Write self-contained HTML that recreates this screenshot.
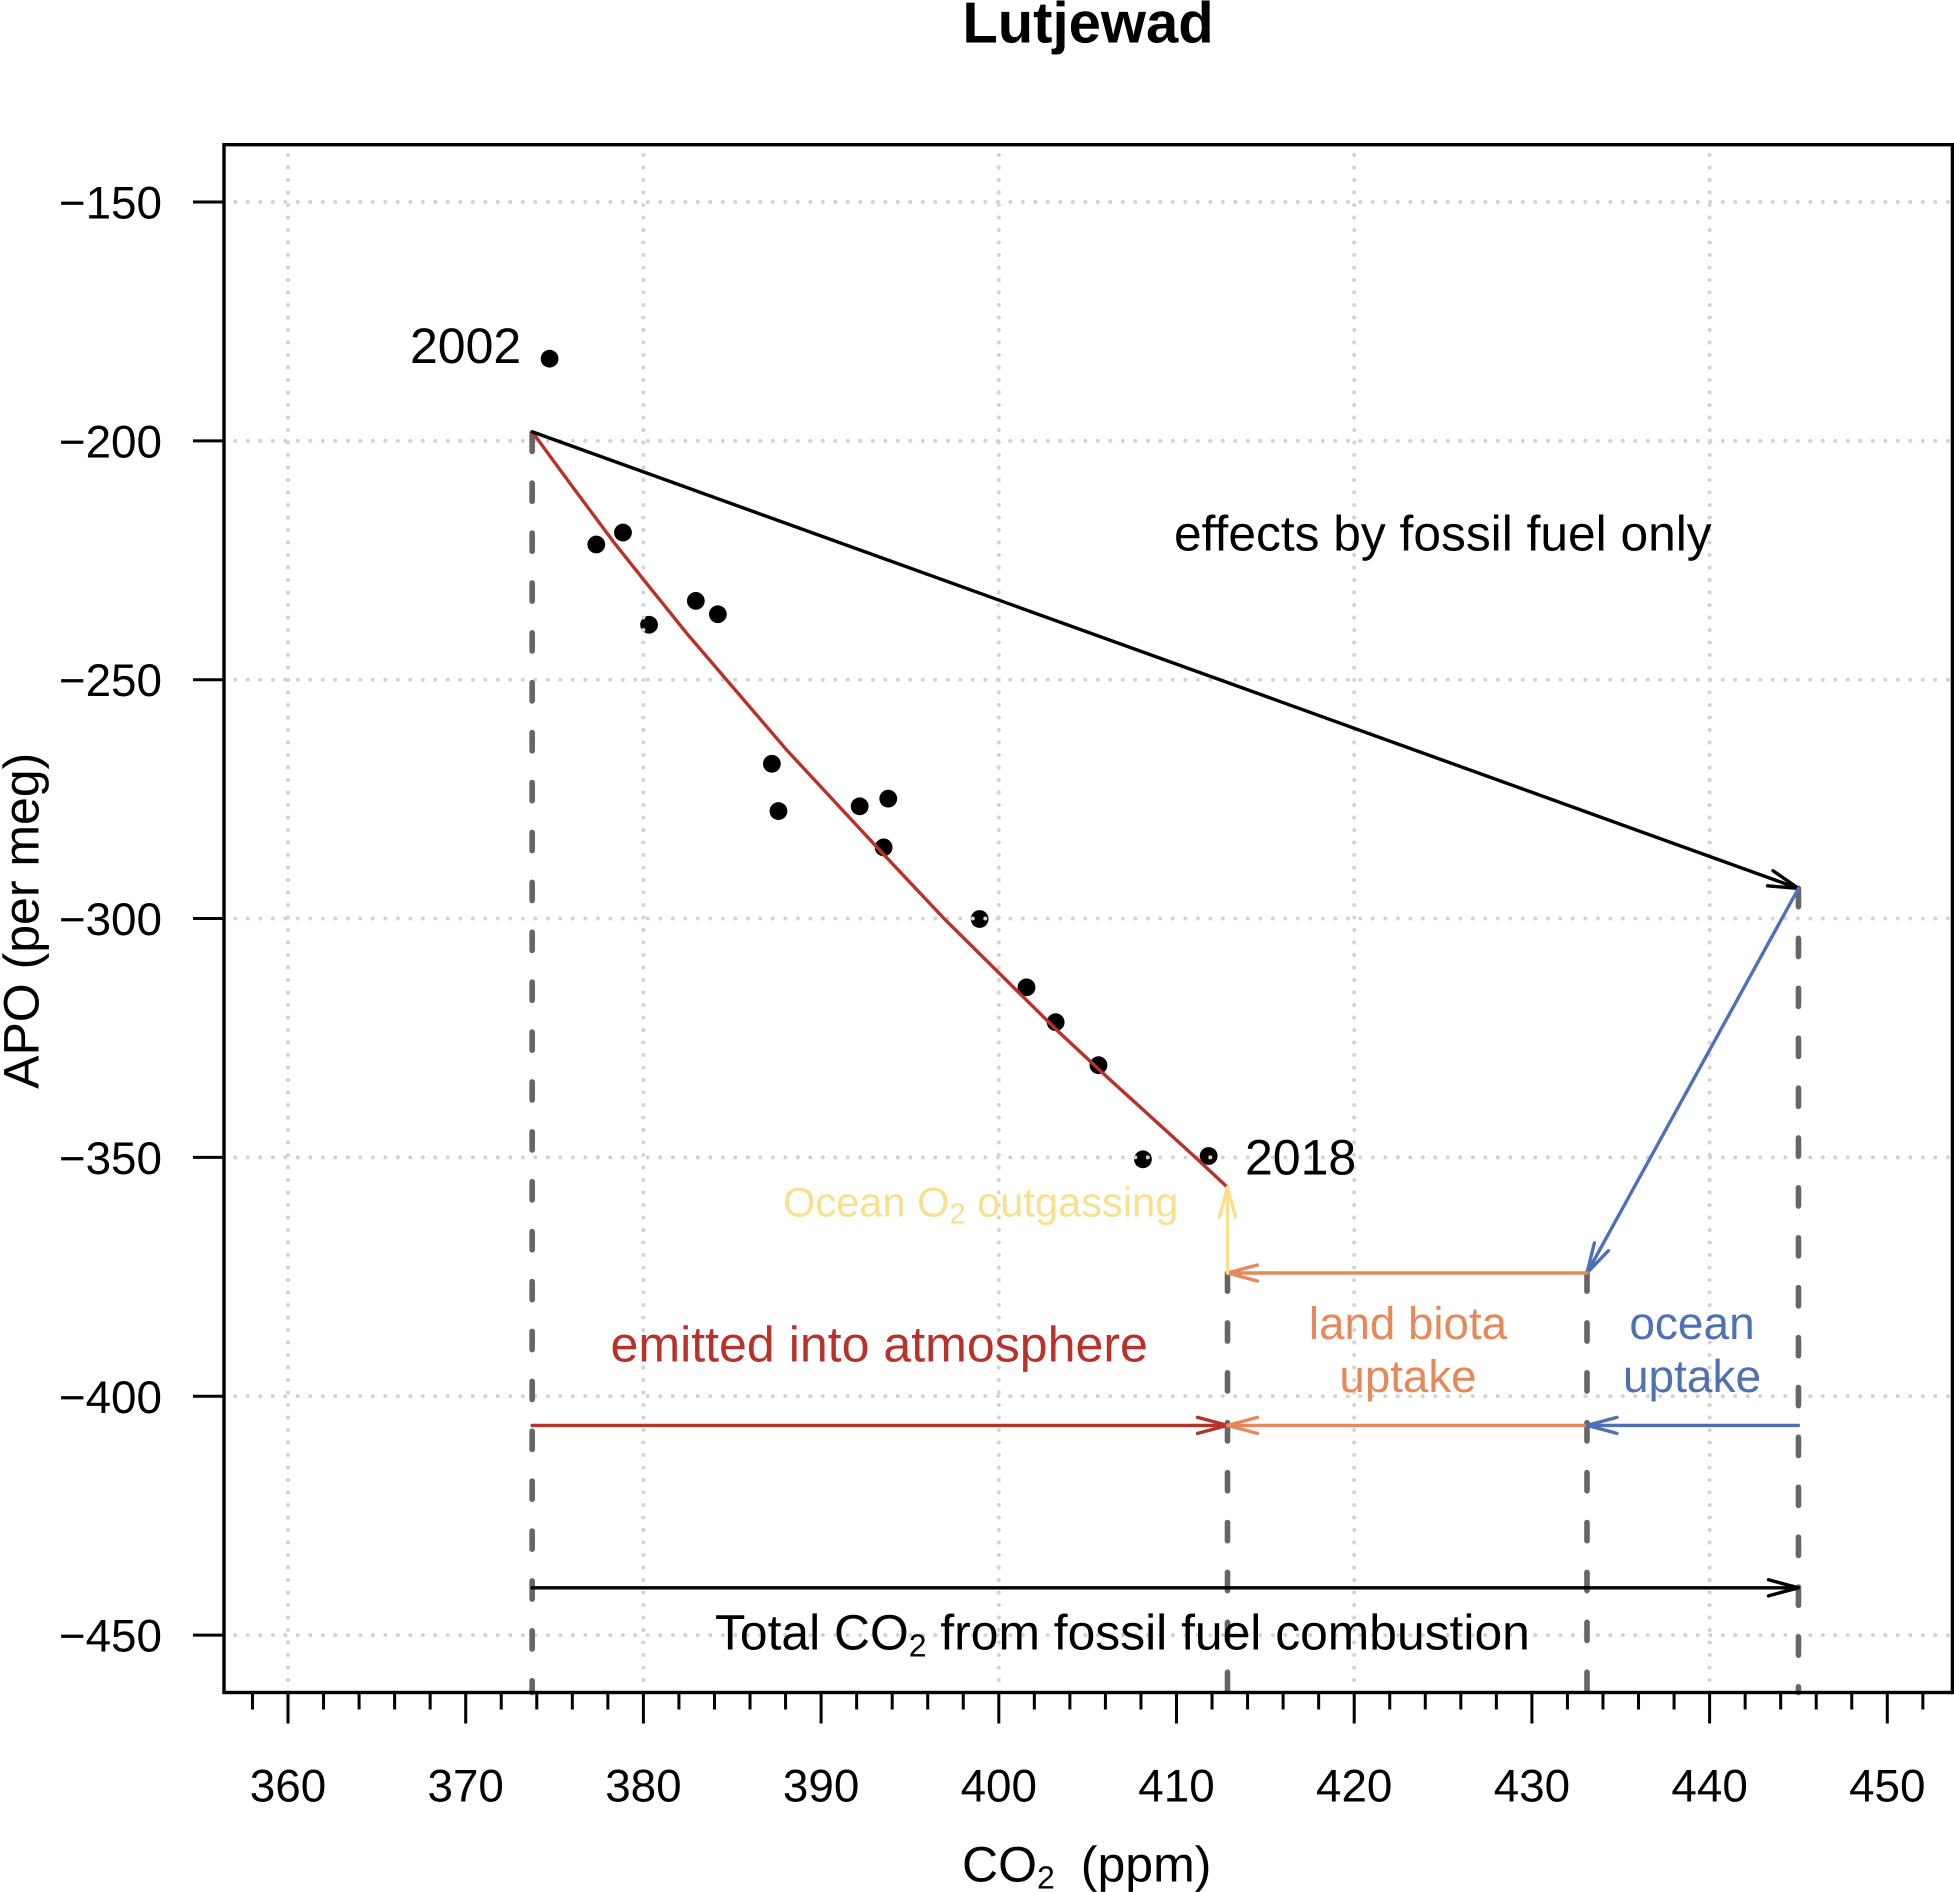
<!DOCTYPE html>
<html lang="en">
<head>
<meta charset="utf-8">
<title>Lutjewad APO vs CO2</title>
<style>
  html, body { margin: 0; padding: 0; background: #ffffff; }
  svg { display: block; }
  text { font-family: "Liberation Sans", Arial, sans-serif; text-rendering: geometricPrecision; fill: #000; }
</style>
</head>
<body>
<svg id="chart" xmlns="http://www.w3.org/2000/svg" width="1954" height="1892" viewBox="0 0 1954 1892">
  <rect x="0" y="0" width="1954" height="1892" fill="#ffffff"/>
  <g id="points"></g>
  <g id="grid"></g>
  <g id="dashes"></g>
  <g id="fit"></g>
  <g id="axes"></g>

  <text x="1088" y="42.7" font-size="58" font-weight="bold" text-anchor="middle">Lutjewad</text>
  <text x="962" y="1881.7" font-size="50">CO<tspan font-size="32" dy="7">2</tspan><tspan dy="-7" dx="26">(ppm)</tspan></text>
  <text transform="translate(38.3 920.8) rotate(-90)" font-size="50" text-anchor="middle">APO (per meg)</text>

  <text x="410" y="363" font-size="50">2002</text>
  <text x="1245" y="1174.7" font-size="50">2018</text>
  <text x="1174" y="550.5" font-size="49.7">effects by fossil fuel only</text>
  <text x="783" y="1216.7" font-size="41.6" style="fill:#f8e08e">Ocean O<tspan font-size="29" dy="7">2</tspan><tspan dy="-7"> outgassing</tspan></text>
  <text x="610.5" y="1361.7" font-size="50.1" style="fill:#b8322a">emitted into atmosphere</text>
  <text x="1408" y="1339" font-size="45.7" text-anchor="middle" style="fill:#e6895a">land biota</text>
  <text x="1408" y="1392" font-size="45.7" text-anchor="middle" style="fill:#e6895a">uptake</text>
  <text x="1692" y="1339" font-size="46" text-anchor="middle" style="fill:#4e71b5">ocean</text>
  <text x="1692" y="1392" font-size="46" text-anchor="middle" style="fill:#4e71b5">uptake</text>
  <text x="715" y="1649.5" font-size="49.8">Total CO<tspan font-size="32" dy="7">2</tspan><tspan dy="-7"> from fossil fuel combustion</tspan></text>
</svg>

<script>
const xTickValues = [360, 370, 380, 390, 400, 410, 420, 430, 440, 450];
const xMinorValues = [358, 362, 364, 366, 368, 372, 374, 376, 378, 382, 384, 386, 388, 392, 394, 396, 398, 402, 404, 406, 408, 412, 414, 416, 418, 422, 424, 426, 428, 432, 434, 436, 438, 442, 444, 446, 448, 452];
const yTickValues = [-150, -200, -250, -300, -350, -400, -450];
const gridXValues = [360, 380, 400, 420, 440];

const obsCo2 = [374.72, 377.35, 378.85, 380.32, 382.95, 384.19, 387.23, 387.6, 392.17, 393.78, 393.52, 398.92, 401.56, 403.2, 405.61, 408.11, 411.81];
const obsApo = [-182.8, -221.7, -219.2, -238.5, -233.5, -236.3, -267.6, -277.5, -276.5, -274.9, -285.1, -300.1, -314.4, -321.7, -330.7, -350.4, -349.7];

const fitCo2 = [373.74, 375.87, 378.31, 380.0, 382.44, 388.06, 391.63, 393.5, 396.97, 403.25, 406.07, 410.95, 412.85];
const fitApo = [-198.1, -208.9, -221.1, -229.0, -240.3, -264.7, -279.0, -286.5, -300.2, -323.3, -333.1, -349.6, -356.2];

const dashCo2 = [373.74, 412.87, 433.1, 445];
const dashTopApo = [-198.4, -374.2, -374.2, -293.7];

const arrowNames = ['fossil-fuel-arrow', 'ocean-uptake-arrow', 'land-uptake-arrow', 'ocean-outgassing-arrow', 'emitted-arrow', 'land-budget-arrow', 'ocean-budget-arrow', 'total-co2-arrow'];
const arrowCo2From = [373.74, 445, 433.1, 412.87, 373.74, 433.1, 445, 373.74];
const arrowApoFrom = [-198.1, -293.7, -374.2, -374.2, -406.1, -406.1, -406.1, -440.1];
const arrowCo2To = [445, 433.1, 412.87, 412.87, 412.87, 412.87, 433.1, 445];
const arrowApoTo = [-293.7, -374.2, -374.2, -356.2, -406.1, -406.1, -406.1, -440.1];
const arrowColors = ['#000000', '#4e71b5', '#e6895a', '#f8e08e', '#b8322a', '#e6895a', '#4e71b5', '#000000'];

const NS = 'http://www.w3.org/2000/svg';
const box = { left: 224, right: 1952.4, top: 144.7, bottom: 1692.5 };
function px(v) { return 288 + (v - 360) * 17.77; }
function py(v) { return 202 + (-150 - v) * 4.777; }
function make(tag, parent, attrs) {
  const el = document.createElementNS(NS, tag);
  for (const k in attrs) el.setAttribute(k, attrs[k]);
  parent.appendChild(el);
  return el;
}
const pointsG = document.getElementById('points');
const gridG = document.getElementById('grid');
const dashG = document.getElementById('dashes');
const fitG = document.getElementById('fit');
const axesG = document.getElementById('axes');

obsCo2.forEach(function (c, i) {
  const dot = make('circle', pointsG, { cx: px(c), cy: py(obsApo[i]), r: 8.9, fill: '#000' });
  
  
});

gridXValues.forEach(function (v) {
  const g = make('line', gridG, { x1: px(v), x2: px(v), y1: 155, y2: box.bottom - 4, stroke: '#d3d3d3', 'stroke-width': 4, 'stroke-linecap': 'round', 'stroke-dasharray': '0 12.5' });
  
  
});
yTickValues.forEach(function (v) {
  const g = make('line', gridG, { x1: 235.3, x2: box.right - 3, y1: py(v), y2: py(v), stroke: '#d3d3d3', 'stroke-width': 4, 'stroke-linecap': 'round', 'stroke-dasharray': '0 12.5' });
  
  
});

dashCo2.forEach(function (c, i) {
  const d = make('line', dashG, { x1: px(c), x2: px(c), y1: py(dashTopApo[i]), y2: box.bottom, stroke: '#666666', 'stroke-width': 5.6, 'stroke-linecap': 'round', 'stroke-dasharray': '18.2 31.7' });
  
  
});

const fitLine = make('polyline', fitG, {
  points: fitCo2.map(function (c, i) { return px(c) + ',' + py(fitApo[i]); }).join(' '),
  fill: 'none', stroke: '#b8322a', 'stroke-width': 3.4, 'stroke-linejoin': 'round'
});



arrowNames.forEach(function (name, i) {
  const x1 = px(arrowCo2From[i]), y1 = py(arrowApoFrom[i]);
  const x2 = px(arrowCo2To[i]), y2 = py(arrowApoTo[i]);
  const a = Math.atan2(y2 - y1, x2 - x1);
  const len = 31, spread = 15 * Math.PI / 180;
  const hx1 = x2 - len * Math.cos(a - spread), hy1 = y2 - len * Math.sin(a - spread);
  const hx2 = x2 - len * Math.cos(a + spread), hy2 = y2 - len * Math.sin(a + spread);
  const p = make('path', fitG, {
    d: 'M' + x1 + ' ' + y1 + 'L' + x2 + ' ' + y2 + 'M' + hx1 + ' ' + hy1 + 'L' + x2 + ' ' + y2 + 'L' + hx2 + ' ' + hy2,
    fill: 'none', stroke: arrowColors[i], 'stroke-width': 3.4, 'stroke-linejoin': 'round', 'stroke-linecap': 'round'
  });
  
  
});

const frame = make('rect', axesG, { x: box.left, y: box.top, width: box.right - box.left, height: box.bottom - box.top, fill: 'none', stroke: '#000', 'stroke-width': 3.4 });



xMinorValues.forEach(function (v) {
  const t = make('line', axesG, { x1: px(v), x2: px(v), y1: box.bottom, y2: box.bottom + 17, stroke: '#000', 'stroke-width': 3 });
  
  
});
xTickValues.forEach(function (v) {
  const t = make('line', axesG, { x1: px(v), x2: px(v), y1: box.bottom, y2: box.bottom + 31, stroke: '#000', 'stroke-width': 3 });
  
  
  const l = make('text', axesG, { x: px(v), y: 1801.7, 'font-size': 45.8, 'text-anchor': 'middle' });
  l.textContent = String(v);
  
  
});
yTickValues.forEach(function (v) {
  const t = make('line', axesG, { x1: box.left - 31, x2: box.left, y1: py(v), y2: py(v), stroke: '#000', 'stroke-width': 3 });
  
  
  const l = make('text', axesG, { x: 162, y: py(v) + 16.5, 'font-size': 45.8, 'text-anchor': 'end' });
  l.textContent = '\u2212' + Math.abs(v);
  
  
});
</script>
</body>
</html>
